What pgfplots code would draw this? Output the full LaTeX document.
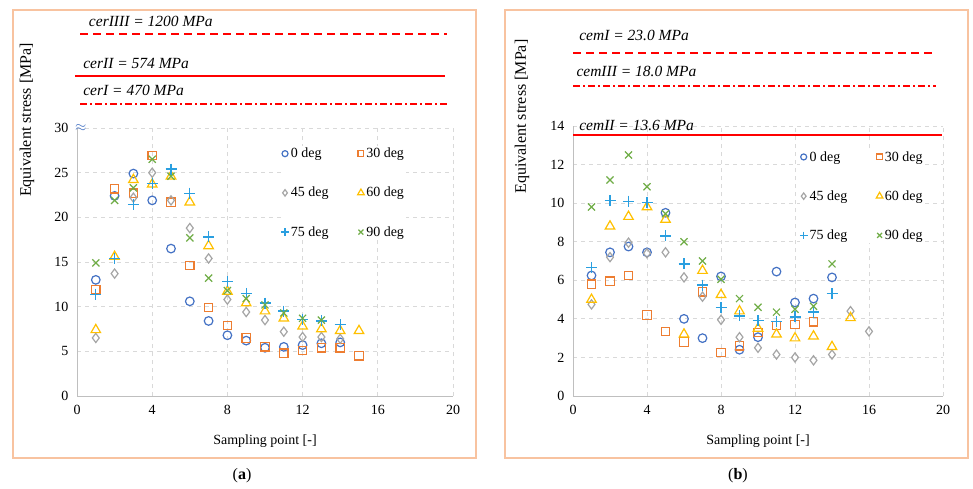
\documentclass[border=0pt]{standalone}
\usepackage{fontspec}
\setmainfont{Liberation Serif}
\usepackage{pgfplots}
\pgfplotsset{compat=1.18}
\definecolor{cA}{HTML}{4472C4}
\definecolor{cB}{HTML}{ED7D31}
\definecolor{cC}{HTML}{A5A5A5}
\definecolor{cD}{HTML}{FFC000}
\definecolor{cE}{HTML}{2A9FE0}
\definecolor{cF}{HTML}{70AD47}
\definecolor{frameor}{HTML}{F8C3A0}
\definecolor{axgray}{HTML}{BFBFBF}
\definecolor{gridgray}{HTML}{D9D9D9}
\tikzset{lab/.style={anchor=west, font=\fontsize{15.5}{17}\selectfont\itshape}}
\pgfplotsset{
  myax/.style={
    scale only axis, clip=false,
    xmin=0, xmax=20, xtick={0,4,...,20},
    axis x line*=bottom, axis y line*=left,
    axis line style={draw=axgray, line width=1pt},
    grid=major, major grid style={draw=gridgray, line width=0.9pt, dash pattern=on 4pt off 4pt},
    major tick length=0pt,
    tick label style={font=\fontsize{14}{16}\selectfont},
    /pgf/number format/assume math mode=true,
    xticklabel style={yshift=-6pt},
    yticklabel style={xshift=-5pt},
    xlabel style={font=\fontsize{14}{16}\selectfont},
    ylabel style={font=\fontsize{16}{18}\selectfont},
    legend columns=2,
    legend cell align=left,
    legend style={draw=none, fill=white, inner sep=0pt, font=\fontsize{14}{16}\selectfont, row sep=24pt,
      /tikz/every even column/.append style={column sep=27pt}},
    legend image code/.code={\draw[mark repeat=2,mark phase=2] plot coordinates {(0pt,0pt)(7pt,0pt)(14pt,0pt)};},
    legend image post style={mark options={scale=0.7}},
  },
  s0/.style={only marks, mark=o, color=cA, mark size=4.3pt, line width=1.2pt},
  s1/.style={only marks, mark=square, color=cB, mark size=4.2pt, line width=1.2pt},
  s2/.style={only marks, mark=diamond, color=cC, mark size=4.6pt, line width=1.2pt},
  s3/.style={only marks, mark=triangle, color=cD, mark size=5.5pt, line width=1.2pt},
  s4/.style={only marks, mark=+, color=cE, mark size=5.5pt, line width=1.3pt},
  s5/.style={only marks, mark=x, color=cF, mark size=5pt, line width=1.2pt},
  rl/.style={red, line width=2pt, forget plot},
}
\begin{document}
\begin{tikzpicture}[x=1pt,y=1pt]
\path[use as bounding box] (0,0) rectangle (973,488);
\draw[frameor, line width=1.6pt] (13,478) rectangle (476,30);
\draw[frameor, line width=1.6pt] (505,478) rectangle (968,30);
\node[font=\fontsize{16}{18}\selectfont] at (242,12) {(\textbf{a})};
\node[font=\fontsize{16}{18}\selectfont] at (738,12) {(\textbf{b})};

\begin{axis}[myax, at={(77pt,92pt)}, anchor=south west, width=376pt, height=268pt,
  ymin=0, ymax=30, ytick={0,5,...,30},
  xlabel={Sampling point [-]}, ylabel={Equivalent stress [MPa]},
  xlabel style={at={(rel axis cs:0.5,0)}, anchor=center, yshift=-45pt},
  ylabel style={at={(rel axis cs:-0.133,1.03)}, anchor=center},
  legend style={at={(axis cs:10.85,28.0)}, anchor=north west}]
\addplot[rl, dash pattern=on 8pt off 5pt] coordinates {(0.16,40.5) (19.7,40.5)};
\addplot[rl] coordinates {(-0.1,35.8) (19.6,35.8)};
\addplot[rl, dash pattern=on 7pt off 3pt on 2pt off 3pt] coordinates {(0.16,32.7) (19.7,32.7)};
\node[lab] at (axis cs:0.45,41.9) {cerIIII = 1200 MPa};
\node[lab] at (axis cs:0.15,37.2) {cerII = 574 MPa};
\node[lab] at (axis cs:0.15,34.2) {cerI = 470 MPa};
\node[text=cA, font=\fontsize{14}{16}\selectfont] at (axis cs:0.2,30) {$\approx$};
\addplot[s0] coordinates {(1,13.0)(2,22.4)(3,24.9)(4,21.9)(5,16.5)(6,10.6)(7,8.4)(8,6.8)(9,6.2)(10,5.4)(11,5.5)(12,5.7)(13,5.9)(14,6.0)};
\addplot[s1] coordinates {(1,11.9)(2,23.2)(3,22.7)(4,26.9)(5,21.7)(6,14.6)(7,9.9)(8,7.9)(9,6.5)(10,5.5)(11,4.8)(12,5.1)(13,5.4)(14,5.4)(15,4.5)};
\addplot[s2] coordinates {(1,6.5)(2,13.7)(3,22.2)(4,25.0)(5,21.9)(6,18.8)(7,15.4)(8,10.8)(9,9.4)(10,8.5)(11,7.2)(12,6.6)(13,6.6)(14,6.4)};
\addplot[s3] coordinates {(1,7.4)(2,15.6)(3,24.2)(4,23.7)(5,24.6)(6,21.7)(7,16.8)(8,11.7)(9,10.4)(10,9.5)(11,8.7)(12,7.8)(13,7.5)(14,7.3)(15,7.3)};
\addplot[s4] coordinates {(1,11.4)(2,15.4)(3,21.4)(4,23.8)(5,25.4)(6,22.7)(7,17.8)(8,12.8)(9,11.5)(10,10.4)(11,9.5)(12,8.6)(13,8.4)(14,8.0)};
\addplot[s5] coordinates {(1,14.9)(2,21.9)(3,23.3)(4,26.5)(5,24.6)(6,17.7)(7,13.2)(8,11.8)(9,10.9)(10,10.2)(11,9.3)(12,8.7)(13,8.5)};
\legend{0 deg,30 deg,45 deg,60 deg,75 deg,90 deg}
\end{axis}

\begin{axis}[myax, at={(573pt,92pt)}, anchor=south west, width=370pt, height=270pt,
  ymin=0, ymax=14, ytick={0,2,...,14},
  xlabel={Sampling point [-]}, ylabel={Equivalent stress [MPa]},
  xlabel style={at={(rel axis cs:0.5,0)}, anchor=center, yshift=-45pt},
  ylabel style={at={(rel axis cs:-0.138,1.035)}, anchor=center},
  legend style={at={(axis cs:12.25,12.8)}, anchor=north west}]
\addplot[rl, dash pattern=on 8pt off 5pt] coordinates {(0,17.8) (19.6,17.8)};
\addplot[rl, dash pattern=on 7pt off 3pt on 2pt off 3pt] coordinates {(0,16.1) (19.6,16.1)};
\addplot[rl] coordinates {(0,13.55) (19.95,13.55)};
\node[lab] at (axis cs:0.15,18.7) {cemI = 23.0 MPa};
\node[lab] at (axis cs:0.0,16.85) {cemIII = 18.0 MPa};
\node[lab] at (axis cs:0.15,14.05) {cemII = 13.6 MPa};
\addplot[s0] coordinates {(1,6.25)(2,7.45)(3,7.75)(4,7.45)(5,9.5)(6,4.0)(7,3.0)(8,6.2)(9,2.4)(10,3.05)(11,6.45)(12,4.85)(13,5.05)(14,6.15)};
\addplot[s1] coordinates {(1,5.8)(2,5.95)(3,6.25)(4,4.2)(5,3.35)(6,2.8)(7,5.4)(8,2.25)(9,2.6)(10,3.3)(11,3.65)(12,3.7)(13,3.85)};
\addplot[s2] coordinates {(1,4.75)(2,7.2)(3,7.95)(4,7.4)(5,7.45)(6,6.15)(7,5.15)(8,3.95)(9,3.05)(10,2.5)(11,2.15)(12,2.0)(13,1.85)(14,2.15)(15,4.4)(16,3.35)};
\addplot[s3] coordinates {(1,5.0)(2,8.8)(3,9.3)(4,9.8)(5,9.15)(6,3.2)(7,6.5)(8,5.25)(9,4.4)(10,3.5)(11,3.2)(12,3.0)(13,3.1)(14,2.55)(15,4.05)};
\addplot[s4] coordinates {(1,6.65)(2,10.15)(3,10.1)(4,10.05)(5,8.3)(6,6.85)(7,5.75)(8,4.6)(9,4.15)(10,3.9)(11,3.85)(12,4.1)(13,4.35)(14,5.3)};
\addplot[s5] coordinates {(1,9.8)(2,11.2)(3,12.5)(4,10.85)(5,9.45)(6,8.0)(7,7.0)(8,6.05)(9,5.05)(10,4.6)(11,4.35)(12,4.5)(13,4.65)(14,6.85)};
\legend{0 deg,30 deg,45 deg,60 deg,75 deg,90 deg}
\end{axis}
\end{tikzpicture}
\end{document}
